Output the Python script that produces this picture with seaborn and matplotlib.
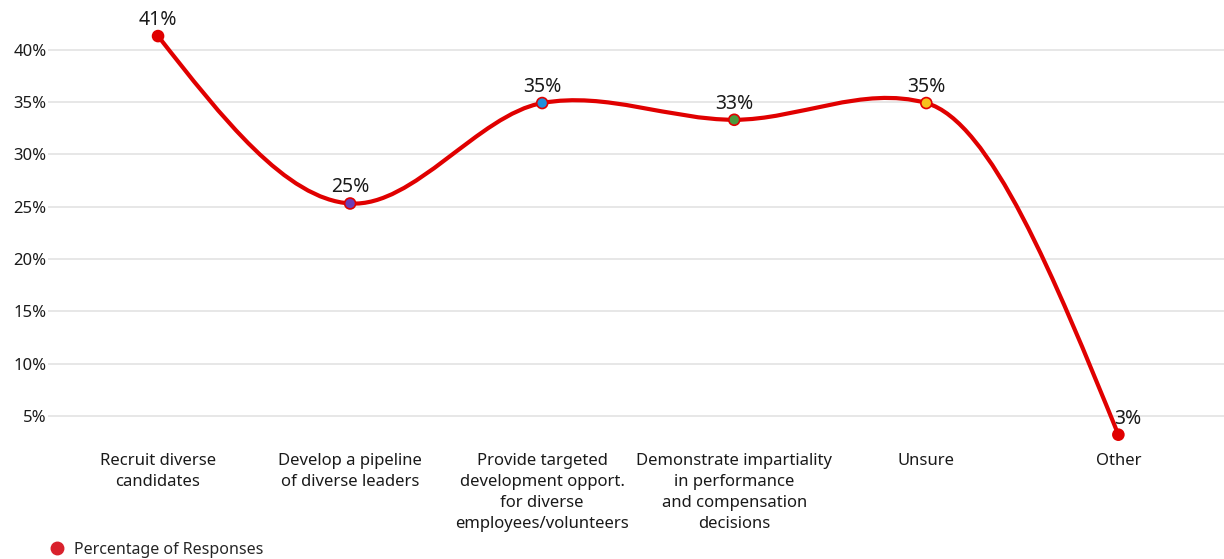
import matplotlib
matplotlib.use("Agg")
import matplotlib.pyplot as plt
from matplotlib.path import Path
from matplotlib.patches import PathPatch
from matplotlib.lines import Line2D
from matplotlib.ticker import FixedLocator, FuncFormatter
import seaborn as sns
import pandas as pd
import numpy as np

categories = [
    "Recruit diverse\ncandidates",
    "Develop a pipeline\nof diverse leaders",
    "Provide targeted\ndevelopment opport.\nfor diverse\nemployees/volunteers",
    "Demonstrate impartiality\nin performance\nand compensation\ndecisions",
    "Unsure",
    "Other",
]
values = [41.3, 25.3, 34.9, 33.3, 34.9, 3.2]
value_labels = ["41%", "25%", "35%", "33%", "35%", "3%"]
point_colors = ["#e00000", "#6a3db8", "#1f8fdc", "#4a9a3c", "#f7c21c", "#e00000"]
y_ticks = [5, 10, 15, 20, 25, 30, 35, 40]
series_name = "Percentage of Responses"

sns.set_theme(style="white")
plt.rcParams["font.family"] = ["Noto Sans", "DejaVu Sans"]

df = pd.DataFrame({"x": np.arange(len(categories)), "y": values,
                   "label": value_labels, "cat": categories})

fig = plt.figure(figsize=(12.24, 5.59), dpi=100)
ax = fig.add_axes([48 / 1224, 117 / 559, 1 - 48 / 1224, 442 / 559])
ax.set_xlim(-0.573, 5.55)
ax.set_ylim(2.5, 44.75)


def smooth_path(ax, xs, ys):
    """Cubic Hermite curve built in screen space; interior tangents blend the
    neighbouring segment slopes weighted by the squared length of the
    opposite segment, ends use the natural end condition."""
    pts = ax.transData.transform(np.column_stack([xs, ys]))
    px, py = pts[:, 0], pts[:, 1]
    n = len(px)
    dx = np.diff(px)
    slope = np.diff(py) / dx
    seg = np.hypot(dx, np.diff(py))
    m = np.zeros(n)
    for i in range(1, n - 1):
        w0, w1 = seg[i] ** 2, seg[i - 1] ** 2
        m[i] = (slope[i - 1] * w0 + slope[i] * w1) / (w0 + w1)
    m[0] = (3 * slope[0] - m[1]) / 2
    m[-1] = (3 * slope[-1] - m[-2]) / 2
    verts = [(px[0], py[0])]
    codes = [Path.MOVETO]
    for i in range(n - 1):
        h = dx[i] / 3
        verts += [(px[i] + h, py[i] + m[i] * h),
                  (px[i + 1] - h, py[i + 1] - m[i + 1] * h),
                  (px[i + 1], py[i + 1])]
        codes += [Path.CURVE4] * 3
    data_verts = ax.transData.inverted().transform(np.array(verts))
    return Path(data_verts, codes)


ax.add_patch(PathPatch(smooth_path(ax, df["x"].to_numpy(float), df["y"].to_numpy(float)),
                       facecolor="none", edgecolor="#e00000", lw=3, zorder=3,
                       capstyle="round"))

sns.scatterplot(data=df, x="x", y="y", hue="cat", palette=point_colors,
                s=62, edgecolor="#e00000", linewidth=1.2, zorder=4,
                legend=False, ax=ax)

last = len(df) - 1
for i, r in df.iterrows():
    nudge = 7 if i == last else 0
    ax.annotate(r["label"], (r["x"], r["y"]), xytext=(nudge, 8),
                textcoords="offset points", ha="center", va="baseline",
                fontsize=14, color="#1a1a1a", zorder=5)

ax.yaxis.set_major_locator(FixedLocator(y_ticks))
ax.yaxis.set_major_formatter(FuncFormatter(lambda v, p: f"{v:.0f}%"))
ax.set_xticks(df["x"])
ax.set_xticklabels(categories, fontsize=12, color="#1a1a1a", linespacing=1.4)
ax.tick_params(axis="y", labelsize=12, labelcolor="#1a1a1a", length=0, pad=1)
ax.tick_params(axis="x", length=0, pad=8)
ax.grid(axis="y", color="#e3e3e3", lw=1.2)
ax.set_axisbelow(True)
for s in ax.spines.values():
    s.set_visible(False)
ax.set_xlabel("")
ax.set_ylabel("")

handle = Line2D([], [], marker="o", ls="none", markersize=9,
                markerfacecolor="#d9212c", markeredgecolor="#d9212c")
fig.legend([handle], [series_name], loc="lower left",
           bbox_to_anchor=(0.028, -0.009), frameon=False, fontsize=11.5,
           handletextpad=0.1, borderaxespad=0)

fig.savefig("out.png", dpi=100)
